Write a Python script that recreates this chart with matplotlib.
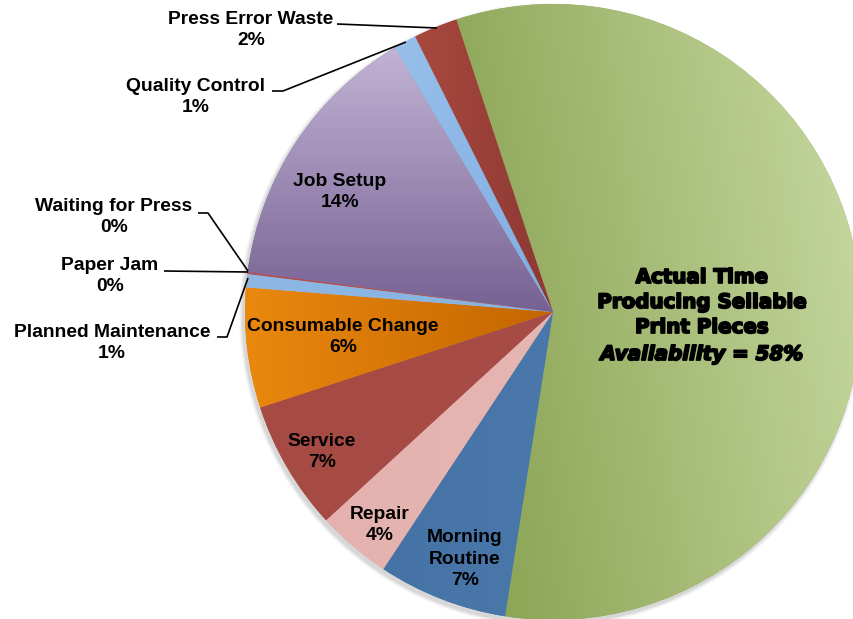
import numpy as np
import matplotlib.pyplot as plt
import matplotlib.patheffects as pe
from matplotlib.colors import to_rgb
from matplotlib.patches import Circle

# slices in the order they run clockwise from the top
names = ["Actual Time", "Morning\nRoutine", "Repair", "Service", "Consumable Change",
         "Planned Maintenance", "Paper Jam", "Waiting for Press", "Job Setup",
         "Quality Control", "Press Error Waste"]
shares = [57.6, 6.8, 3.9, 6.8, 6.3, 0.7, 0.1, 0.05, 14.3, 1.2, 2.3]
pct_text = ["58%", "7%", "4%", "7%", "6%", "1%", "0%", "0%", "14%", "1%", "2%"]

# (start colour, end colour, gradient direction in pixel coords, y down)
fills = [
    ("#8ca556", "#c3d59b", (1.0, -0.15)),
    ("#4673a6", "#4a78aa", (1.0, 0.0)),
    ("#e4b1ae", "#e6b6b3", (1.0, 0.0)),
    ("#a64a44", "#a84c47", (1.0, 0.0)),
    ("#ea880e", "#c46600", (1.0, 0.0)),
    ("#8db7e4", "#88b3e2", (1.0, 0.0)),
    ("#b3504c", "#b3504c", (1.0, 0.0)),
    ("#8064a2", "#8064a2", (1.0, 0.0)),
    ("#766292", "#c2b3d5", (0.0, -1.0)),
    ("#97bfe9", "#7fade2", (1.0, 0.3)),
    ("#a9493f", "#8c3834", (1.0, 0.0)),
]

cx, cy, R = 553, 312, 308

fig = plt.figure(figsize=(8.54, 6.19), dpi=100)
ax = fig.add_axes([0, 0, 1, 1])

# soft shadow under the pie
for k, a in enumerate([0.05, 0.07, 0.09, 0.12]):
    ax.add_patch(Circle((cx - 2, cy + 3), R + 4 - k, color="#808080", alpha=a, lw=0, zorder=0))

wedges, _ = ax.pie(shares, startangle=251.7, counterclock=True, center=(cx, cy), radius=R,
                   colors=[f[0] for f in fills], wedgeprops=dict(linewidth=0))

for w, (c0, c1, d) in zip(wedges, fills):
    w.set_zorder(1)
    v = w.get_path().vertices
    x0, x1 = v[:, 0].min(), v[:, 0].max()
    y0, y1 = v[:, 1].min(), v[:, 1].max()
    xs = np.linspace(x0, x1, max(int(x1 - x0), 2))
    ys = np.linspace(y0, y1, max(int(y1 - y0), 2))
    X, Y = np.meshgrid(xs, ys)
    proj = v[:, 0] * d[0] + v[:, 1] * d[1]
    t = (X * d[0] + Y * d[1] - proj.min()) / max(proj.max() - proj.min(), 1e-9)
    t = np.clip(t, 0, 1)[..., None]
    img = np.array(to_rgb(c0)) * (1 - t) + np.array(to_rgb(c1)) * t
    im = ax.imshow(img, extent=(x0, x1, y0, y1), origin="lower", interpolation="bilinear",
                   aspect="auto", zorder=2)
    im.set_clip_path(w)

lab = dict(family="Liberation Sans", fontweight="bold", fontsize=13.9, ha="center",
           va="center", linespacing=1.35, zorder=5)

# inside labels
inside = {1: (465, 559), 2: (380, 525), 3: (322, 452), 4: (343, 337), 8: (340, 192)}
for i, (x, y) in inside.items():
    ax.text(x, y, names[i] + "\n" + pct_text[i], **lab)

# outside labels with leader lines
outside = {
    10: ((251, 30), [(337, 24), (437, 28)]),
    9: ((196, 97), [(272, 91), (283, 91), (406, 42)]),
    7: ((114, 217), [(198, 213), (208, 213), (248, 271)]),
    6: ((110, 276), [(164, 271), (248, 272)]),
    5: ((112, 343), [(217, 337), (227, 337), (248, 278)]),
}
for i, ((x, y), pts) in outside.items():
    ax.text(x, y, names[i] + "\n" + pct_text[i], **lab)
    pts = np.array(pts)
    ax.plot(pts[:, 0], pts[:, 1], color="black", lw=1.2, zorder=4, solid_capstyle="butt")

big = dict(family="DejaVu Sans", fontweight="bold", fontsize=14.3, ha="center",
           va="baseline", zorder=5,
           path_effects=[pe.withStroke(linewidth=1.3, foreground="black")])
ax.text(702, 283, "Actual Time", **big)
ax.text(702, 308, "Producing Sellable", **big)
ax.text(702, 333, "Print Pieces", **big)
ax.text(702, 360, "Availability = " + pct_text[0], style="italic", **big)

ax.set_xlim(0, 854)
ax.set_ylim(619, 0)
ax.axis("off")

plt.savefig("out.png", dpi=100)
plt.close()
